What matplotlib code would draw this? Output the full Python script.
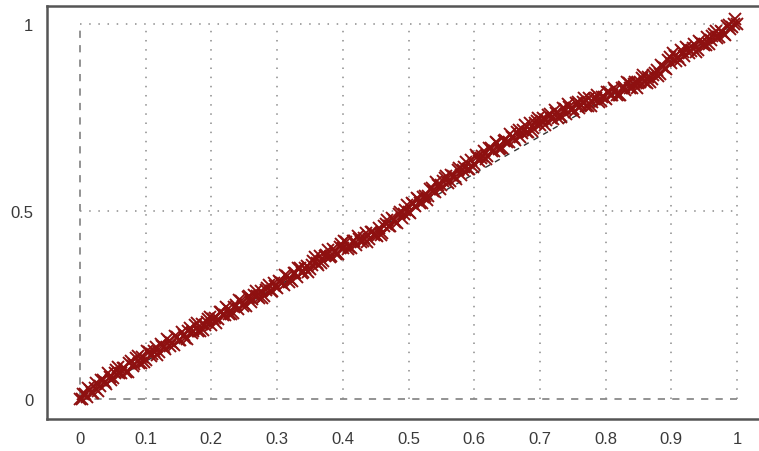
import numpy as np
import matplotlib.pyplot as plt

# points, first set at x = 0, 0.005, ... 1
x_a = np.arange(201) * 0.005
y_a = [
    0.000, 0.013, 0.005, 0.023, 0.016, 0.042, 0.034, 0.050, 0.039, 0.059,
    0.057, 0.077, 0.070, 0.083, 0.073, 0.096, 0.088, 0.109, 0.096, 0.111,
    0.104, 0.124, 0.121, 0.138, 0.125, 0.142, 0.132, 0.155, 0.150, 0.167,
    0.157, 0.178, 0.163, 0.180, 0.176, 0.197, 0.182, 0.200, 0.197, 0.212,
    0.198, 0.217, 0.212, 0.233, 0.225, 0.240, 0.227, 0.245, 0.241, 0.262,
    0.254, 0.273, 0.258, 0.276, 0.274, 0.288, 0.274, 0.295, 0.288, 0.308,
    0.295, 0.311, 0.303, 0.327, 0.320, 0.335, 0.326, 0.350, 0.339, 0.353,
    0.346, 0.367, 0.362, 0.380, 0.367, 0.384, 0.379, 0.399, 0.385, 0.405,
    0.401, 0.419, 0.405, 0.422, 0.410, 0.426, 0.421, 0.441, 0.425, 0.444,
    0.437, 0.456, 0.443, 0.465, 0.462, 0.483, 0.472, 0.492, 0.483, 0.503,
    0.499, 0.523, 0.515, 0.532, 0.522, 0.542, 0.540, 0.562, 0.551, 0.571,
    0.570, 0.589, 0.576, 0.597, 0.592, 0.611, 0.598, 0.619, 0.614, 0.637,
    0.625, 0.644, 0.641, 0.661, 0.647, 0.669, 0.662, 0.682, 0.669, 0.688,
    0.684, 0.705, 0.696, 0.711, 0.699, 0.717, 0.712, 0.735, 0.723, 0.741,
    0.729, 0.748, 0.743, 0.760, 0.746, 0.762, 0.756, 0.775, 0.760, 0.779,
    0.774, 0.789, 0.776, 0.791, 0.780, 0.802, 0.791, 0.803, 0.792, 0.806,
    0.799, 0.818, 0.809, 0.824, 0.811, 0.828, 0.823, 0.843, 0.829, 0.846,
    0.842, 0.856, 0.844, 0.859, 0.853, 0.869, 0.861, 0.889, 0.881, 0.903,
    0.896, 0.915, 0.911, 0.929, 0.915, 0.934, 0.927, 0.946, 0.931, 0.950,
    0.944, 0.965, 0.956, 0.972, 0.961, 0.980, 0.973, 0.993, 0.987, 0.999,
    1.000,
]

# second set, in between: x = 0.0025, 0.0075, ... 0.9975
x_b = np.arange(200) * 0.005 + 0.0025
y_b = [
    0.000, 0.014, 0.029, 0.015, 0.029, 0.022, 0.051, 0.045, 0.068, 0.050,
    0.070, 0.084, 0.069, 0.082, 0.073, 0.101, 0.094, 0.115, 0.096, 0.099,
    0.129, 0.114, 0.127, 0.118, 0.146, 0.139, 0.160, 0.141, 0.144, 0.165,
    0.158, 0.171, 0.161, 0.189, 0.181, 0.202, 0.182, 0.185, 0.205, 0.219,
    0.212, 0.203, 0.231, 0.224, 0.245, 0.226, 0.229, 0.250, 0.264, 0.249,
    0.247, 0.275, 0.267, 0.287, 0.268, 0.270, 0.291, 0.304, 0.288, 0.301,
    0.315, 0.308, 0.329, 0.311, 0.314, 0.335, 0.350, 0.335, 0.348, 0.339,
    0.356, 0.377, 0.358, 0.361, 0.382, 0.396, 0.381, 0.394, 0.385, 0.413,
    0.421, 0.400, 0.402, 0.421, 0.434, 0.417, 0.429, 0.418, 0.445, 0.436,
    0.433, 0.438, 0.460, 0.476, 0.462, 0.477, 0.469, 0.499, 0.493, 0.516,
    0.496, 0.519, 0.535, 0.522, 0.537, 0.529, 0.559, 0.554, 0.577, 0.560,
    0.580, 0.595, 0.581, 0.595, 0.587, 0.616, 0.610, 0.632, 0.614, 0.618,
    0.649, 0.635, 0.648, 0.640, 0.669, 0.662, 0.684, 0.666, 0.670, 0.691,
    0.685, 0.698, 0.689, 0.717, 0.710, 0.730, 0.711, 0.714, 0.735, 0.749,
    0.741, 0.731, 0.758, 0.750, 0.770, 0.750, 0.752, 0.772, 0.785, 0.769,
    0.766, 0.792, 0.783, 0.802, 0.780, 0.781, 0.800, 0.811, 0.794, 0.805,
    0.817, 0.809, 0.829, 0.809, 0.811, 0.831, 0.844, 0.828, 0.840, 0.830,
    0.845, 0.864, 0.843, 0.844, 0.863, 0.878, 0.867, 0.884, 0.879, 0.911,
    0.921, 0.902, 0.904, 0.925, 0.938, 0.923, 0.935, 0.926, 0.953, 0.946,
    0.943, 0.946, 0.967, 0.981, 0.966, 0.979, 0.970, 0.998, 0.991, 1.012,
]

xticks = [0, 0.1, 0.2, 0.3, 0.4, 0.5, 0.6, 0.7, 0.8, 0.9, 1]
xlabels = ['0', '0.1', '0.2', '0.3', '0.4', '0.5', '0.6', '0.7', '0.8', '0.9', '1']
yticks = [0, 0.5, 1]
ylabels = ['0', '0.5', '1']

plt.rcParams['font.family'] = ['Liberation Sans', 'DejaVu Sans']

fig = plt.figure(figsize=(7.59, 4.52), dpi=100)
ax = fig.add_axes([0.062, 0.071, 0.938, 0.914])

# grid, only inside the unit square
for gx in xticks[1:]:
    ax.plot([gx, gx], [0, 1], linestyle=(0, (1, 5)), color='#8c8c8c', linewidth=1.1, zorder=1)
for gy in yticks[1:]:
    ax.plot([0, 1], [gy, gy], linestyle=(0, (1, 5)), color='#8c8c8c', linewidth=1.1, zorder=1)
ax.plot([0, 0], [0, 1], linestyle=(0, (4, 4)), color='#8a8a8a', linewidth=1.3, zorder=1)
ax.plot([0, 1], [0, 0], linestyle=(0, (4, 4)), color='#8a8a8a', linewidth=1.3, zorder=1)

# diagonal
ax.plot([0, 1], [0, 1], linestyle=(0, (4, 4)), color='#333333', linewidth=1.0, zorder=2)

for xs, ys in [(x_a, y_a), (x_b, y_b)]:
    ax.plot(xs, ys, linestyle='none', marker='x', markersize=8, markeredgewidth=1.4,
            color='#8e1010', zorder=3)

ax.set_xlim(-0.0502, 1.0335)
ax.set_ylim(-0.0533, 1.048)
ax.set_xticks(xticks)
ax.set_xticklabels(xlabels)
ax.set_yticks(yticks)
ax.set_yticklabels(ylabels)
ax.tick_params(length=0, labelsize=12, labelcolor='#3a3a3a', pad=9)
ax.tick_params(axis='y', pad=10)

for side in ['left', 'top', 'bottom']:
    ax.spines[side].set_color('#555555')
    ax.spines[side].set_linewidth(1.8)
ax.spines['right'].set_visible(False)

fig.savefig('out.png', dpi=100)
